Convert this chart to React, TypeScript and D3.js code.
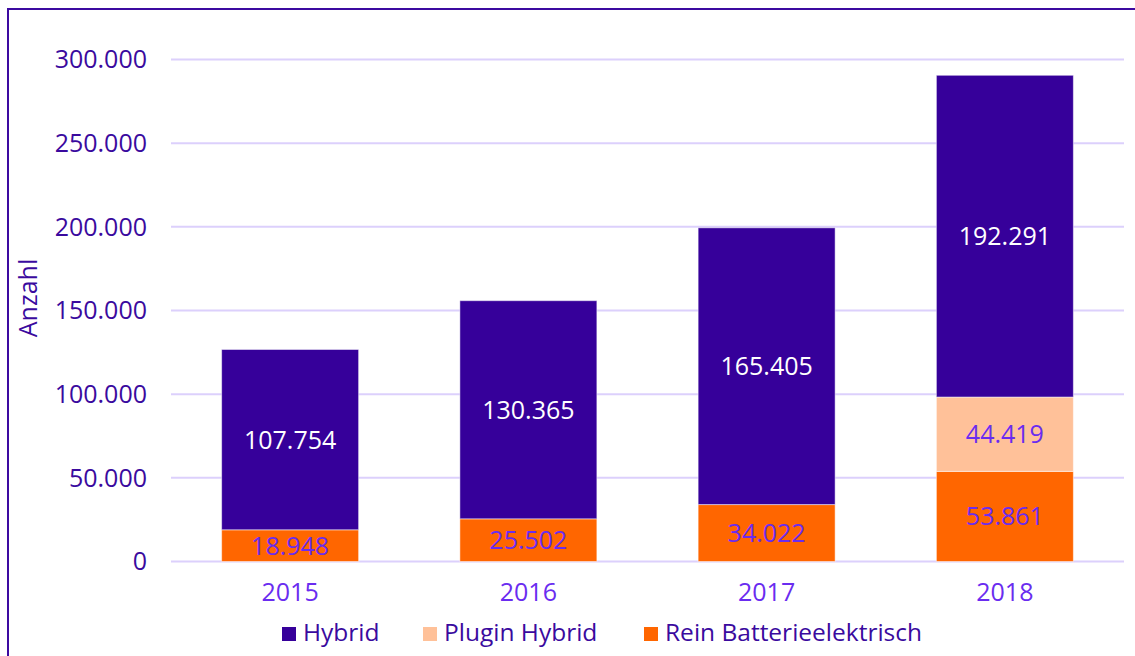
import React from 'react';
import * as d3 from 'd3';

const years = ['2015', '2016', '2017', '2018'];
const reinBatterie = [18948, 25502, 34022, 53861];
const pluginHybrid = [0, 0, 0, 44419];
const hybrid = [107754, 130365, 165405, 192291];
const yTicks = [0, 50000, 100000, 150000, 200000, 250000, 300000];

const seriesNames = ['Rein Batterieelektrisch', 'Plugin Hybrid', 'Hybrid'];
const seriesColors = ['#ff6600', '#ffc199', '#36009a'];
const labelColors = ['#6a2cf0', '#6a2cf0', '#ffffff'];
const legendOrder = [2, 1, 0];

const W = 1135;
const H = 656;
const margin = { top: 59.5, right: 11, bottom: 94.5, left: 171 };
const FONT = '"Open Sans", "Noto Sans", sans-serif';

const fmt = (v: number) => d3.format(',')(v).replace(/,/g, '.');

export default function App() {
  const x = d3.scaleBand<string>()
    .domain(years)
    .range([margin.left, W - margin.right])
    .paddingInner(0.425)
    .paddingOuter(0.2125);

  const y = d3.scaleLinear()
    .domain([0, 300000])
    .range([H - margin.bottom, margin.top]);

  const rows = years.map((yr, i) => ({
    year: yr,
    rein: reinBatterie[i],
    plugin: pluginHybrid[i],
    hybrid: hybrid[i],
  }));
  const stack = d3.stack<any>().keys(['rein', 'plugin', 'hybrid'])(rows);

  const legendX = [282, 423, 644];

  return (
    <svg width={W} height={H} style={{ position: 'absolute', left: 0, top: 0 }}
      fontFamily={FONT}>
      <rect x={0} y={0} width={W} height={H} fill="#fff" />
      <rect x={8} y={9} width={W + 50} height={H + 50} fill="none" stroke="#3c0aa0" strokeWidth={2} />

      {yTicks.map(t => (
        <g key={t}>
          <line x1={margin.left} x2={W - margin.right} y1={y(t)} y2={y(t)}
            stroke="#dcd0fc" strokeWidth={2} />
          <text x={147} y={y(t)} dy="0.35em" textAnchor="end" fontSize={25}
            fill="#3a0a9e">{fmt(t)}</text>
        </g>
      ))}

      <text transform={`translate(37,298) rotate(-90)`} textAnchor="middle"
        fontSize={25} fill="#3a0a9e">Anzahl</text>

      {stack.map((s, si) => (
        <g key={si}>
          {s.map((d, i) => {
            const h = y(d[0]) - y(d[1]);
            if (h <= 0) return null;
            const xx = x(years[i])!;
            const v = d[1] - d[0];
            return (
              <g key={i}>
                <rect x={xx} y={y(d[1])} width={x.bandwidth()} height={h}
                  fill={seriesColors[si]} stroke="#ffffff" strokeOpacity={0.5} strokeWidth={1} />
                <text x={xx + x.bandwidth() / 2} y={(y(d[0]) + y(d[1])) / 2}
                  dy="0.36em" textAnchor="middle" fontSize={25}
                  fill={labelColors[si]}>{fmt(v)}</text>
              </g>
            );
          })}
        </g>
      ))}

      {years.map(yr => (
        <text key={yr} x={x(yr)! + x.bandwidth() / 2} y={601} textAnchor="middle"
          fontSize={25} fill="#6a2cf0">{yr}</text>
      ))}

      {legendOrder.map((si, k) => (
        <g key={si}>
          <rect x={legendX[k]} y={627} width={14} height={14} fill={seriesColors[si]} />
          <text x={legendX[k] + 21} y={641} fontSize={24.5} fill="#3a0a9e">{seriesNames[si]}</text>
        </g>
      ))}
    </svg>
  );
}
